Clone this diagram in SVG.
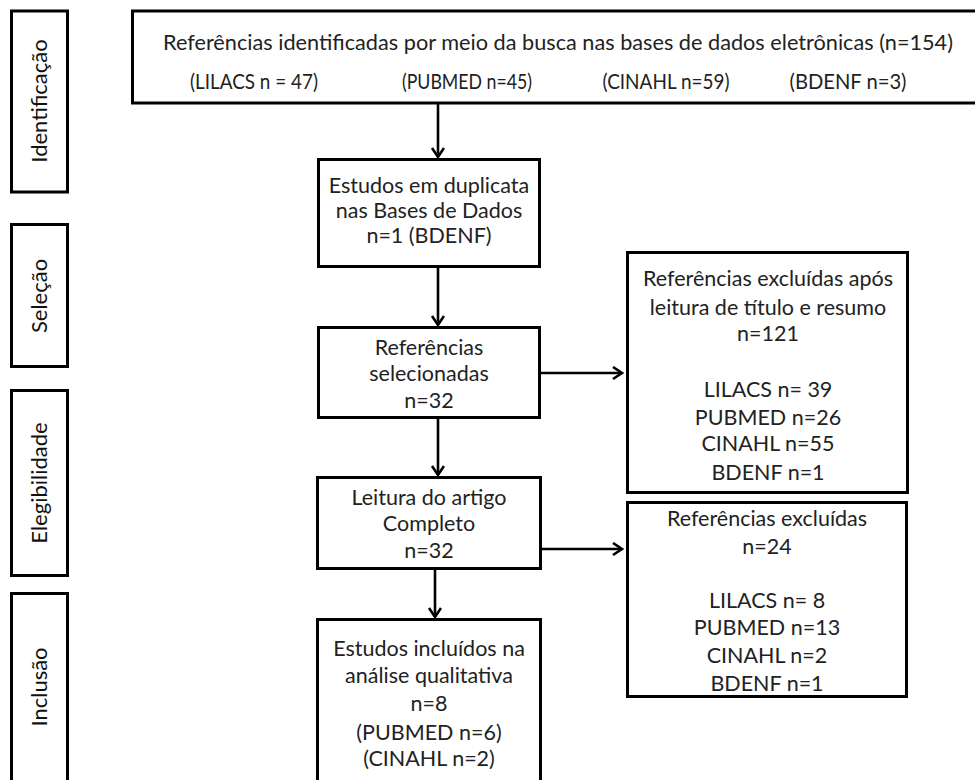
<svg xmlns="http://www.w3.org/2000/svg" width="975" height="780" viewBox="0 0 975 780">
<defs>
<style>
.box{fill:#fff;stroke:#000;stroke-width:3}
.t{font-family:Lato,"Open Sans","Liberation Sans",sans-serif;font-size:21.5px;fill:#222;text-anchor:middle}
.s{font-family:Lato,"Open Sans","Liberation Sans",sans-serif;font-size:22px;fill:#111;text-anchor:middle}
.c{fill:none;stroke:#000;stroke-width:2.6}
</style>
<marker id="ah" markerUnits="userSpaceOnUse" markerWidth="14" markerHeight="16" refX="10" refY="7" orient="auto">
<path d="M1,1 L10,7 L1,13" fill="none" stroke="#000" stroke-width="2.6"/>
</marker>
</defs>
<rect width="975" height="780" fill="#fff"/>

<g id="stage-identificacao">
<rect class="box" x="11.5" y="11" width="56" height="181"/>
<text class="s" transform="translate(47,101) rotate(-90)">Identificação</text>
</g>
<g id="stage-selecao">
<rect class="box" x="11.5" y="224.5" width="56" height="142"/>
<text class="s" transform="translate(47,296) rotate(-90)">Seleção</text>
</g>
<g id="stage-elegibilidade">
<rect class="box" x="11.5" y="390.5" width="56" height="185"/>
<text class="s" transform="translate(47,483) rotate(-90)">Elegibilidade</text>
</g>
<g id="stage-inclusao">
<rect class="box" x="11.5" y="593.5" width="56" height="190"/>
<text class="s" transform="translate(47,687) rotate(-90)">Inclusão</text>
</g>

<g id="identified">
<rect class="box" x="132.5" y="11" width="846" height="92"/>
<text class="t" x="558" y="50" textLength="790" lengthAdjust="spacingAndGlyphs">Referências  identificadas por meio  da busca  nas bases de dados eletrônicas (n=154)</text>
<text class="t" x="254" y="89" textLength="128" lengthAdjust="spacingAndGlyphs">(LILACS  n = 47)</text>
<text class="t" x="467" y="89" textLength="130" lengthAdjust="spacingAndGlyphs">(PUBMED n=45)</text>
<text class="t" x="666" y="89" textLength="127" lengthAdjust="spacingAndGlyphs">(CINAHL n=59)</text>
<text class="t" x="848" y="89" textLength="117" lengthAdjust="spacingAndGlyphs">(BDENF n=3)</text>
</g>

<g id="duplicates">
<rect class="box" x="318.5" y="159.5" width="221" height="107"/>
<text class="t" x="429" y="193">Estudos em duplicata</text>
<text class="t" x="429" y="218">nas Bases de Dados</text>
<text class="t" x="429" y="243">n=1 (BDENF)</text>
</g>

<g id="selected">
<rect class="box" x="318.5" y="327.5" width="221" height="90"/>
<text class="t" x="429" y="355">Referências</text>
<text class="t" x="429" y="381">selecionadas</text>
<text class="t" x="429" y="408">n=32</text>
</g>

<g id="fulltext">
<rect class="box" x="317.5" y="477.5" width="223" height="91"/>
<text class="t" x="429" y="505">Leitura do artigo</text>
<text class="t" x="429" y="531">Completo</text>
<text class="t" x="429" y="558">n=32</text>
</g>

<g id="included">
<rect class="box" x="317.5" y="619.5" width="223" height="165"/>
<text class="t" x="429" y="656">Estudos incluídos na</text>
<text class="t" x="429" y="683">análise qualitativa</text>
<text class="t" x="429" y="711">n=8</text>
<text class="t" x="429" y="740">(PUBMED n=6)</text>
<text class="t" x="429" y="766">(CINAHL n=2)</text>
</g>

<g id="excluded-title">
<rect class="box" x="627.5" y="252.5" width="280" height="240"/>
<text class="t" x="768" y="286">Referências excluídas após</text>
<text class="t" x="768" y="315">leitura de título e resumo</text>
<text class="t" x="768" y="341">n=121</text>
<text class="t" x="768" y="397">LILACS n= 39</text>
<text class="t" x="768" y="425">PUBMED n=26</text>
<text class="t" x="768" y="451">CINAHL n=55</text>
<text class="t" x="768" y="480">BDENF n=1</text>
</g>

<g id="excluded-full">
<rect class="box" x="627.5" y="502.5" width="279" height="194"/>
<text class="t" x="767" y="526">Referências excluídas</text>
<text class="t" x="767" y="554">n=24</text>
<text class="t" x="767" y="608">LILACS n= 8</text>
<text class="t" x="767" y="635">PUBMED n=13</text>
<text class="t" x="767" y="663">CINAHL n=2</text>
<text class="t" x="767" y="691">BDENF n=1</text>
</g>

<g id="connectors">
<line class="c" x1="438" y1="104" x2="438" y2="157" marker-end="url(#ah)"/>
<line class="c" x1="438" y1="268" x2="438" y2="325" marker-end="url(#ah)"/>
<line class="c" x1="438" y1="419" x2="438" y2="475" marker-end="url(#ah)"/>
<line class="c" x1="435" y1="570" x2="435" y2="617" marker-end="url(#ah)"/>
<line class="c" x1="541" y1="373" x2="622" y2="373" marker-end="url(#ah)"/>
<line class="c" x1="542" y1="549" x2="622" y2="549" marker-end="url(#ah)"/>
</g>
</svg>
